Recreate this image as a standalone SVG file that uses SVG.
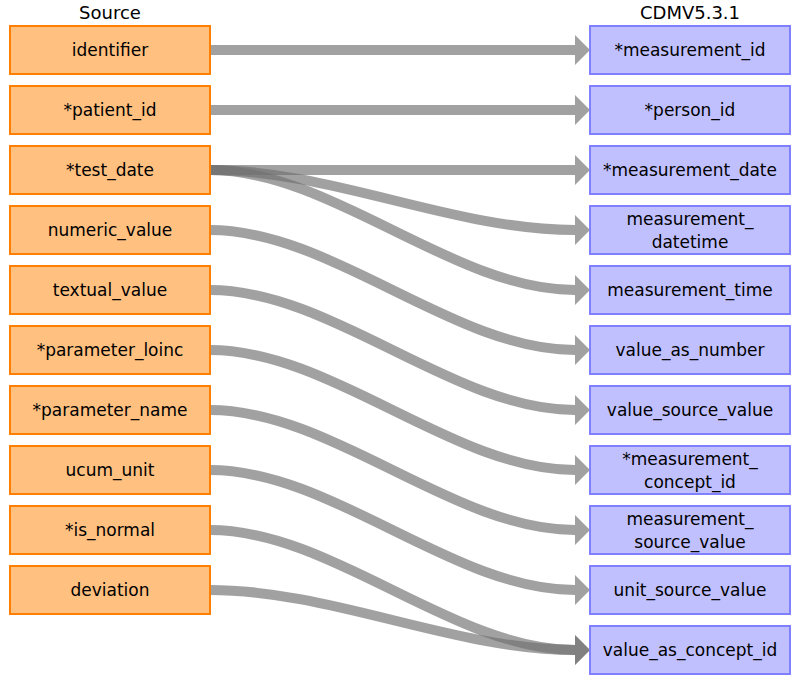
<svg xmlns="http://www.w3.org/2000/svg" width="800" height="685" viewBox="0 0 800 685">
<style>
.src rect{fill:#ffc080;stroke:#ff8000;stroke-width:2}
.dst rect{fill:#c0c0ff;stroke:#8080ff;stroke-width:2}
text{font-family:"DejaVu Sans","Liberation Sans",sans-serif;font-size:17px;fill:#000;text-anchor:middle;dominant-baseline:central}
.hdr{font-size:18px}
#connectors path{fill:none;stroke:#707070;stroke-opacity:0.66;stroke-width:10;marker-end:url(#ah)}
</style>
<defs>
<marker id="ah" markerUnits="userSpaceOnUse" markerWidth="15" markerHeight="30" refX="0" refY="15" orient="auto" overflow="visible">
<path d="M0,0 L15,15 L0,30 Z" fill="#707070" fill-opacity="0.66"/>
</marker>
</defs>
<rect width="800" height="685" fill="#fff"/>
<text class="hdr" x="110" y="12">Source</text>
<text class="hdr" x="690" y="12">CDMV5.3.1</text>
<g id="connectors">
<path d="M210,50 L575,50"/>
<path d="M210,110 L575,110"/>
<path d="M210,170 L575,170"/>
<path d="M210,170 C332,170 453,230 575,230"/>
<path d="M210,170 C332,170 453,290 575,290"/>
<path d="M210,230 C332,230 453,350 575,350"/>
<path d="M210,290 C332,290 453,410 575,410"/>
<path d="M210,350 C332,350 453,470 575,470"/>
<path d="M210,410 C332,410 453,530 575,530"/>
<path d="M210,470 C332,470 453,590 575,590"/>
<path d="M210,530 C332,530 453,650 575,650"/>
<path d="M210,590 C332,590 453,650 575,650"/>
</g>
<g id="s0" class="src"><rect x="10" y="26" width="200" height="48"/><text x="110" y="50">identifier</text></g>
<g id="s1" class="src"><rect x="10" y="86" width="200" height="48"/><text x="110" y="110">*patient_id</text></g>
<g id="s2" class="src"><rect x="10" y="146" width="200" height="48"/><text x="110" y="170">*test_date</text></g>
<g id="s3" class="src"><rect x="10" y="206" width="200" height="48"/><text x="110" y="230">numeric_value</text></g>
<g id="s4" class="src"><rect x="10" y="266" width="200" height="48"/><text x="110" y="290">textual_value</text></g>
<g id="s5" class="src"><rect x="10" y="326" width="200" height="48"/><text x="110" y="350">*parameter_loinc</text></g>
<g id="s6" class="src"><rect x="10" y="386" width="200" height="48"/><text x="110" y="410">*parameter_name</text></g>
<g id="s7" class="src"><rect x="10" y="446" width="200" height="48"/><text x="110" y="470">ucum_unit</text></g>
<g id="s8" class="src"><rect x="10" y="506" width="200" height="48"/><text x="110" y="530">*is_normal</text></g>
<g id="s9" class="src"><rect x="10" y="566" width="200" height="48"/><text x="110" y="590">deviation</text></g>
<g id="d0" class="dst"><rect x="590" y="26" width="200" height="48"/><text x="690" y="50">*measurement_id</text></g>
<g id="d1" class="dst"><rect x="590" y="86" width="200" height="48"/><text x="690" y="110">*person_id</text></g>
<g id="d2" class="dst"><rect x="590" y="146" width="200" height="48"/><text x="690" y="170">*measurement_date</text></g>
<g id="d3" class="dst"><rect x="590" y="206" width="200" height="48"/><text x="690" y="219">measurement_</text><text x="690" y="242">datetime</text></g>
<g id="d4" class="dst"><rect x="590" y="266" width="200" height="48"/><text x="690" y="290">measurement_time</text></g>
<g id="d5" class="dst"><rect x="590" y="326" width="200" height="48"/><text x="690" y="350">value_as_number</text></g>
<g id="d6" class="dst"><rect x="590" y="386" width="200" height="48"/><text x="690" y="410">value_source_value</text></g>
<g id="d7" class="dst"><rect x="590" y="446" width="200" height="48"/><text x="690" y="459">*measurement_</text><text x="690" y="482">concept_id</text></g>
<g id="d8" class="dst"><rect x="590" y="506" width="200" height="48"/><text x="690" y="519">measurement_</text><text x="690" y="542">source_value</text></g>
<g id="d9" class="dst"><rect x="590" y="566" width="200" height="48"/><text x="690" y="590">unit_source_value</text></g>
<g id="d10" class="dst"><rect x="590" y="626" width="200" height="48"/><text x="690" y="650">value_as_concept_id</text></g>
</svg>
